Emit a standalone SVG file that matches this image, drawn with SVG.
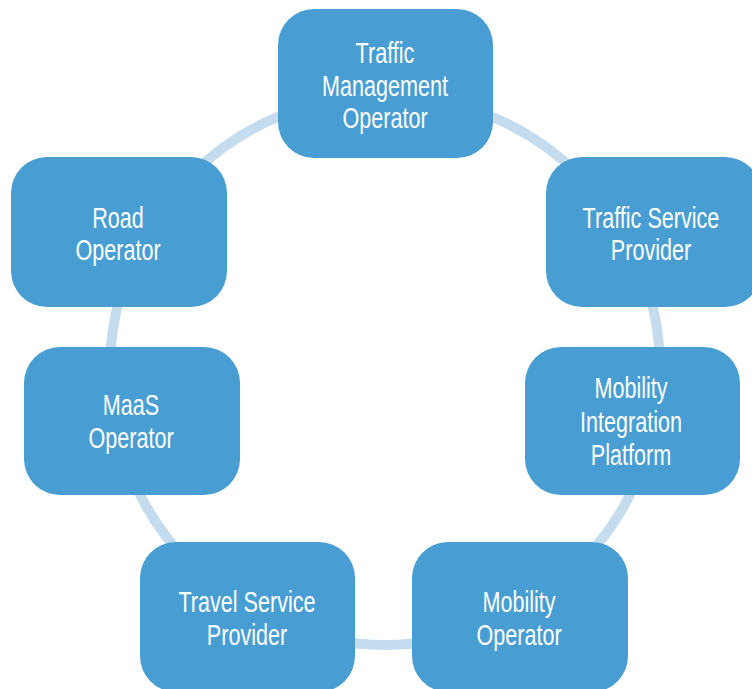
<svg xmlns="http://www.w3.org/2000/svg" width="752" height="689" viewBox="0 0 752 689">
<style>
.node rect{fill:#489ed2;}
.node text{fill:#ffffff;font-family:"Liberation Sans",Arial,sans-serif;font-size:30px;text-anchor:middle;}
.ring{fill:none;stroke:#c5dbee;stroke-width:10;}
</style>
<rect width="752" height="689" fill="#ffffff"/>
<g id="connectors">
<circle class="ring" cx="385" cy="370" r="275"/>
</g>
<g id="traffic-management-operator" class="node">
<rect x="278" y="9" width="215" height="149" rx="36"/>
<g transform="translate(385,0) scale(0.72,1)"><text x="0" y="63">Traffic</text><text x="0" y="96">Management</text><text x="0" y="128">Operator</text></g>
</g>
<g id="traffic-service-provider" class="node">
<rect x="546" y="157" width="215" height="150" rx="36"/>
<g transform="translate(651,0) scale(0.72,1)"><text x="0" y="228">Traffic Service</text><text x="0" y="260">Provider</text></g>
</g>
<g id="mobility-integration-platform" class="node">
<rect x="525" y="347" width="215" height="148" rx="36"/>
<g transform="translate(631,0) scale(0.72,1)"><text x="0" y="398">Mobility</text><text x="0" y="432">Integration</text><text x="0" y="465">Platform</text></g>
</g>
<g id="mobility-operator" class="node">
<rect x="412" y="542" width="216" height="150" rx="36"/>
<g transform="translate(519,0) scale(0.72,1)"><text x="0" y="612">Mobility</text><text x="0" y="645">Operator</text></g>
</g>
<g id="travel-service-provider" class="node">
<rect x="140" y="542" width="215" height="150" rx="36"/>
<g transform="translate(247,0) scale(0.72,1)"><text x="0" y="612">Travel Service</text><text x="0" y="645">Provider</text></g>
</g>
<g id="maas-operator" class="node">
<rect x="24" y="347" width="216" height="148" rx="36"/>
<g transform="translate(131,0) scale(0.72,1)"><text x="0" y="415">MaaS</text><text x="0" y="448">Operator</text></g>
</g>
<g id="road-operator" class="node">
<rect x="11" y="157" width="216" height="150" rx="36"/>
<g transform="translate(118,0) scale(0.72,1)"><text x="0" y="228">Road</text><text x="0" y="260">Operator</text></g>
</g>
</svg>
